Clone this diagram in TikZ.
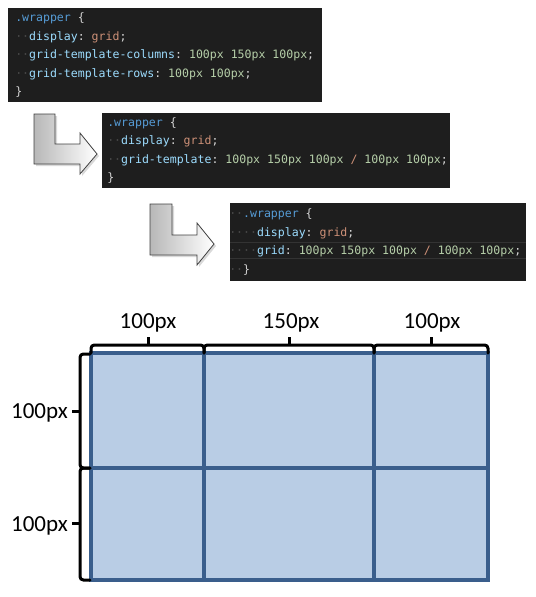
\documentclass[tikz,border=0pt]{standalone}
\usepackage{fontspec}
\setmainfont{Carlito}
\setmonofont{DejaVu Sans Mono}
\usetikzlibrary{shadows}
\definecolor{codebg}{HTML}{1E1E1E}
\definecolor{codefg}{HTML}{D4D4D4}
\definecolor{sel}{HTML}{569CD6}
\definecolor{prop}{HTML}{9CDCFE}
\definecolor{val}{HTML}{CE9178}
\definecolor{num}{HTML}{B5CEA8}
\definecolor{dotc}{HTML}{4A4A4A}
\definecolor{cellfill}{HTML}{B9CDE5}
\definecolor{cellline}{HTML}{3A5E8C}
\definecolor{hiline}{HTML}{333333}
\begin{document}
\begin{tikzpicture}[x=0.75pt,y=-0.75pt,
  code/.style={anchor=base west, inner sep=0, font=\ttfamily\fontsize{8.66}{10}\selectfont, text=codefg},
  lbl/.style={inner sep=0, font=\fontsize{17.25}{20}\selectfont},
  bendarrow/.style={draw=black!75, line width=0.6pt, left color=black!28, right color=white,
    drop shadow={shadow xshift=1.5pt, shadow yshift=-1.5pt, opacity=0.3}},
  brace/.style={line width=2.25pt, line cap=round, rounded corners=2.5pt},
  cellbox/.style={draw=cellline, line width=2.4pt, fill=cellfill}]
\useasboundingbox (0,0) rectangle (536,597);

% ---- code box 1
\fill[codebg] (8,8) rectangle (322,102);
\node[code] (b1l1) at (15,21.5) {\textcolor{sel}{.wrapper} \{};
\node[code] (b1l2) at (15,40) {\textcolor{dotc}{··}\textcolor{prop}{display}: \textcolor{val}{grid};};
\node[code] (b1l3) at (15,58.5) {\textcolor{dotc}{··}\textcolor{prop}{grid-template-columns}: \textcolor{num}{100px 150px 100px};};
\node[code] (b1l4) at (15,77) {\textcolor{dotc}{··}\textcolor{prop}{grid-template-rows}: \textcolor{num}{100px 100px};};
\node[code] (b1l5) at (15,95.5) {\}};

% ---- arrow 1
\path[bendarrow] (34,114) -- (55,114) -- (55,144) -- (80,144) -- (80,133) -- (97,154)
  -- (80,174) -- (80,164) -- (34,164) -- cycle;

% ---- code box 2
\fill[codebg] (102,113) rectangle (450,188);
\node[code] (b2l1) at (107,126) {\textcolor{sel}{.wrapper} \{};
\node[code] (b2l2) at (107,144.5) {\textcolor{dotc}{··}\textcolor{prop}{display}: \textcolor{val}{grid};};
\node[code] (b2l3) at (107,163) {\textcolor{dotc}{··}\textcolor{prop}{grid-template}: \textcolor{num}{100px 150px 100px} \textcolor{val}{/} \textcolor{num}{100px 100px};};
\node[code] (b2l4) at (107,181.5) {\}};

% ---- arrow 2
\path[bendarrow] (150,204) -- (172,204) -- (172,235) -- (197,235) -- (197,223) -- (214,244)
  -- (197,265) -- (197,255) -- (150,255) -- cycle;

% ---- code box 3
\fill[codebg] (230,203) rectangle (526,281);
\draw[hiline, line width=0.75pt] (230,242) -- (526,242) (230,258) -- (526,258);
\node[code] (b3l1) at (229,217) {\textcolor{dotc}{··}\textcolor{sel}{.wrapper} \{};
\node[code] (b3l2) at (229,236) {\textcolor{dotc}{····}\textcolor{prop}{display}: \textcolor{val}{grid};};
\node[code] (b3l3) at (229,254.5) {\textcolor{dotc}{····}\textcolor{prop}{grid}: \textcolor{num}{100px 150px 100px} \textcolor{val}{/} \textcolor{num}{100px 100px};};
\node[code] (b3l4) at (229,273) {\textcolor{dotc}{··}\}};

% ---- grid
\coordinate (gtl) at (91,353);
\coordinate (gbr) at (488,580);
\path[cellbox] (gtl) rectangle (gbr);
\draw[draw=cellline, line width=2.4pt] (204,353) -- (204,580) (374,353) -- (374,580) (91,468) -- (488,468);

% ---- top braces
\draw[brace] (91,353) -- (91,345) -- (204,345) -- (204,353);
\draw[brace] (204,353) -- (204,345) -- (374,345) -- (374,353);
\draw[brace] (374,353) -- (374,345) -- (488,345) -- (488,353);
\draw[line width=2.25pt] (148,346) -- (148,337) (289,346) -- (289,337) (431,346) -- (431,337);

% ---- left braces
\draw[brace] (90,354) -- (80,354) -- (80,468) -- (90,468);
\draw[brace] (90,468) -- (80,468) -- (80,580) -- (90,580);
\draw[line width=2.25pt] (81,411) -- (72,411) (81,523) -- (72,523);

% ---- labels
\node[lbl, anchor=base] (c1) at (148,328) {100px};
\node[lbl, anchor=base] (c2) at (291,328) {150px};
\node[lbl, anchor=base] (c3) at (432,328) {100px};
\node[lbl, anchor=base east] (r1) at (68,418) {100px};
\node[lbl, anchor=base east] (r2) at (68,531) {100px};
\end{tikzpicture}
\end{document}
